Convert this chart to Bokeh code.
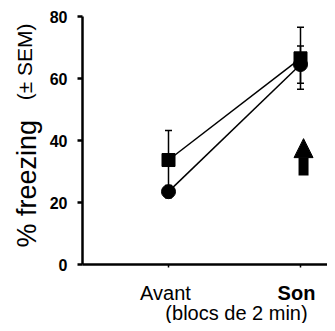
import math
from bokeh.plotting import figure
from bokeh.models import (ColumnDataSource, Whisker, TeeHead, Arrow,
                          NormalHead, FixedTicker, Range1d)
from bokeh.core.properties import value
from bokeh.embed import file_html
from bokeh.resources import INLINE

# ---- data ----
phases = ["Avant", "Son"]
phase_x = [0, 1]
sq_mean = [33.7, 66.5]
sq_sem = [9.5, 10.0]
ci_mean = [23.5, 64.5]
ci_sem = [2.0, 6.0]
y_ticks = [0, 20, 40, 60, 80]
arrow_x = 1.023
arrow_y0 = 28.7
arrow_y1 = 40.6

FONT = "Liberation Sans"
W, H = 327, 323
X0PIX, XSCALE = 168.0, 132.0     # pixel of x=0, pixels per unit
Y0PIX, YSCALE = 264.0, 3.1       # pixel of y=0, pixels per unit
AXIS_X = (82 - X0PIX) / XSCALE   # where the y axis sits (data)

p = figure(width=W, height=H, output_backend="svg", toolbar_location=None,
           x_range=Range1d(-X0PIX / XSCALE, (W - X0PIX) / XSCALE),
           y_range=Range1d(-(H - Y0PIX) / YSCALE, Y0PIX / YSCALE),
           min_border=0, outline_line_color=None)
p.grid.visible = False

# axes
ya = p.yaxis[0]
ya.fixed_location = AXIS_X
ya.bounds = (0, 80)
ya.ticker = FixedTicker(ticks=y_ticks)
ya.minor_tick_line_color = None
ya.major_tick_in = 0
ya.major_tick_out = 5
ya.axis_line_width = 2.5
ya.major_tick_line_width = 2.5
ya.major_label_text_font = FONT
ya.major_label_text_font_style = "bold"
ya.major_label_text_font_size = "16px"
ya.major_label_text_color = "black"
ya.major_label_standoff = 10

xa = p.xaxis[0]
xa.fixed_location = 0
xa.bounds = (AXIS_X, 2)
xa.ticker = FixedTicker(ticks=phase_x)
xa.minor_tick_line_color = None
xa.major_tick_in = 0
xa.major_tick_out = 3
xa.axis_line_width = 2.5
xa.major_tick_line_width = 1.5
xa.major_label_overrides = {0: "", 1: ""}

src_sq = ColumnDataSource(dict(x=phase_x, y=sq_mean,
                               lo=[m - s for m, s in zip(sq_mean, sq_sem)],
                               hi=[m + s for m, s in zip(sq_mean, sq_sem)]))
src_ci = ColumnDataSource(dict(x=phase_x, y=ci_mean,
                               lo=[m - s for m, s in zip(ci_mean, ci_sem)],
                               hi=[m + s for m, s in zip(ci_mean, ci_sem)]))

for src in (src_sq, src_ci):
    w = Whisker(source=src, base="x", upper="hi", lower="lo", dimension="height",
                line_color="black", line_width=1.5,
                upper_head=TeeHead(size=7, line_width=1.5, line_color="black"),
                lower_head=TeeHead(size=7, line_width=1.5, line_color="black"))
    w.level = "underlay"
    p.add_layout(w)

p.line("x", "y", source=src_sq, line_color="black", line_width=1.5)
p.line("x", "y", source=src_ci, line_color="black", line_width=1.5)
p.scatter("x", "y", source=src_sq, marker="square", size=13,
          fill_color="black", line_color="black")
p.scatter("x", "y", source=src_ci, marker="circle", size=14,
          fill_color="black", line_color="black")

# arrow
p.add_layout(Arrow(end=NormalHead(size=19, fill_color="black", line_color="black"),
                   x_start=arrow_x, y_start=arrow_y0, x_end=arrow_x, y_end=arrow_y1,
                   line_width=10, line_color="black"))

def ypix(pix):
    return (Y0PIX - pix) / YSCALE

def xpix(pix):
    return (pix - X0PIX) / XSCALE

# x labels
p.text(x=[phase_x[0]], y=[ypix(292)], text=[phases[0]], x_offset=-3,
       text_align="center", text_baseline="alphabetic",
       text_font=value(FONT), text_font_size="20px", text_color="black")
p.text(x=[phase_x[1]], y=[ypix(292)], text=[phases[1]], x_offset=-4,
       text_align="center", text_baseline="alphabetic",
       text_font=value(FONT), text_font_size="20px", text_font_style="bold",
       text_color="black")
p.text(x=[xpix(236)], y=[ypix(312)], text=["(blocs de 2 min)"],
       text_align="center", text_baseline="alphabetic",
       text_font=value(FONT), text_font_size="20px", text_color="black")

# y title
p.text(x=[xpix(26)], y=[ypix(247)], text=["% freezing"], angle=math.pi / 2,
       text_align="left", text_baseline="alphabetic",
       text_font=value(FONT), text_font_size="27px", text_color="black")
p.text(x=[xpix(24)], y=[ypix(23)], text=["(± SEM)"], angle=math.pi / 2,
       text_align="right", text_baseline="alphabetic",
       text_font=value(FONT), text_font_size="21px", text_color="black")

open("out.html", "w").write(file_html(p, INLINE))
